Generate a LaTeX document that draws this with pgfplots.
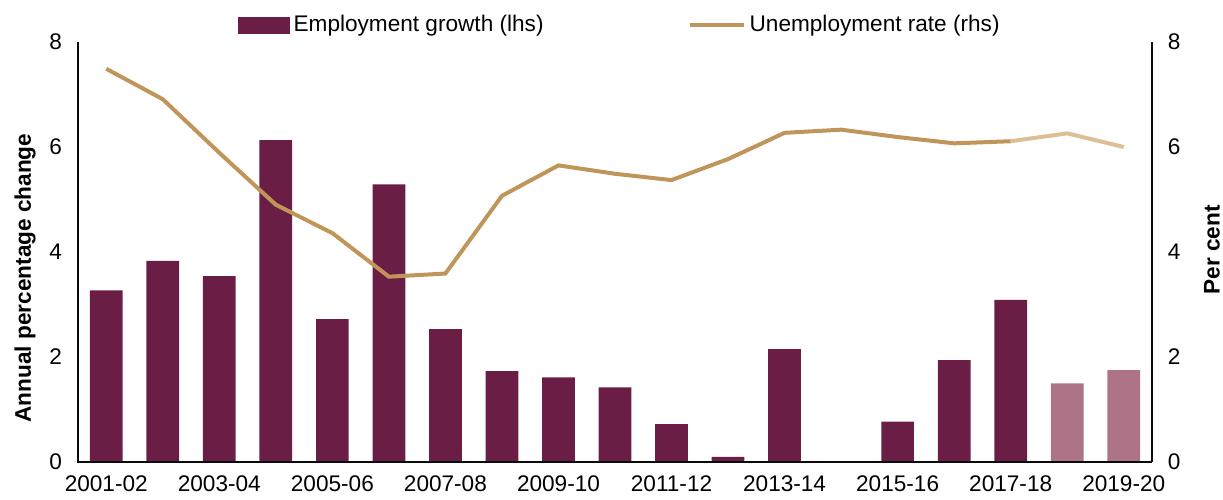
\documentclass[border=0pt]{standalone}
\usepackage{fontspec}
\setmainfont{Liberation Sans}
\usepackage{pgfplots}
\usepackage{pgfplotstable}
\pgfplotsset{compat=1.18}

\definecolor{wine}{HTML}{6B1E45}
\definecolor{winelt}{HTML}{AD7488}
\definecolor{gold}{HTML}{C0955A}
\definecolor{goldlt}{HTML}{DCBF95}
\definecolor{axiscol}{HTML}{0A0A0A}

% employment growth, actual and forecast
\pgfplotstableread{
x emp
0 3.27
1 3.83
2 3.54
3 6.13
4 2.72
5 5.29
6 2.53
7 1.73
8 1.61
9 1.42
10 0.72
11 0.10
12 2.15
14 0.77
15 1.94
16 3.09
}\empact
\pgfplotstableread{
x emp
17 1.50
18 1.75
}\empfc
% unemployment rate
\pgfplotstableread{
x ur
0 7.49
1 6.91
2 5.89
3 4.90
4 4.36
5 3.53
6 3.59
7 5.07
8 5.65
9 5.49
10 5.37
11 5.77
12 6.27
13 6.33
14 6.19
15 6.07
16 6.11
}\uract
\pgfplotstableread{
x ur
16 6.11
17 6.26
18 6.00
}\urfc

\pgfplotsset{
  common/.style={
    scale only axis, width=537pt, height=210pt,
    xmin=-0.5, xmax=18.5, ymin=0, ymax=8,
    ytick={0,2,4,6,8},
    tick style={draw=none},
    axis line style={draw=none},
    clip=false,
    /pgf/number format/assume math mode=true,
    tick label style={font=\fontsize{11.3}{13}\selectfont},
    label style={font=\fontsize{11.3}{13}\selectfont\bfseries},
  },
}

\begin{document}
\fontsize{11.3}{13}\selectfont
\begin{tikzpicture}
\begin{axis}[common,
  axis x line*=bottom, axis y line*=left,
  xtick={0,2,...,18},
  xticklabels={2001-02,2003-04,2005-06,2007-08,2009-10,2011-12,2013-14,2015-16,2017-18,2019-20},
  xticklabel style={yshift=-3pt},
  yticklabel style={xshift=-4pt},
  ylabel={Annual percentage change},
  ylabel style={at={(axis description cs:-0.0493,0.438)}, anchor=center},
  legend columns=2,
  legend style={at={(0.5,1.04)}, anchor=center, xshift=3pt, draw=none, fill=none,
    font=\fontsize{11.3}{13}\selectfont,
    /tikz/every even column/.append style={column sep=70pt}},
  legend cell align=left,
]
\addplot[ybar, bar width=16.35pt, bar shift=0pt, fill=wine, draw=none,
  area legend, legend image code/.code={\fill[wine] (0cm,-0.15cm) rectangle (0.9cm,0.15cm);}]
  table[x=x, y=emp] {\empact};
\addlegendentry{Employment growth (lhs)}
\addplot[ybar, bar width=16.35pt, bar shift=0pt, fill=winelt, draw=none, forget plot]
  table[x=x, y=emp] {\empfc};
\addlegendimage{gold, line width=2pt, legend image code/.code={\draw[gold, line width=2pt] (0cm,0cm) -- (0.95cm,0cm);}}
\addlegendentry{Unemployment rate (rhs)}
% left and bottom axis lines
\addplot[axiscol, line width=0.8pt, no marks, forget plot] coordinates {(-0.5,8) (-0.5,0) (18.5,0)};
\end{axis}
\begin{axis}[common,
  axis x line=none, axis y line*=right,
  xtick=\empty,
  yticklabel style={xshift=4pt},
  ylabel={Per cent},
  ylabel style={at={(axis description cs:1.0559,0.505)}, anchor=center},
]
\addplot[gold, line width=2pt, no marks] table[x=x, y=ur] {\uract};
\addplot[goldlt, line width=2pt, no marks] table[x=x, y=ur] {\urfc};
% right axis line
\addplot[axiscol, line width=0.8pt, no marks, forget plot] coordinates {(18.5,0) (18.5,8)};
\end{axis}
\path (current axis.south west) ++(-39pt,-18.5pt) coordinate (bbl);
\path (current axis.north east) ++(35.5pt,21pt) coordinate (bbr);
\pgfresetboundingbox
\useasboundingbox (bbl) rectangle (bbr);
\end{tikzpicture}
\end{document}
